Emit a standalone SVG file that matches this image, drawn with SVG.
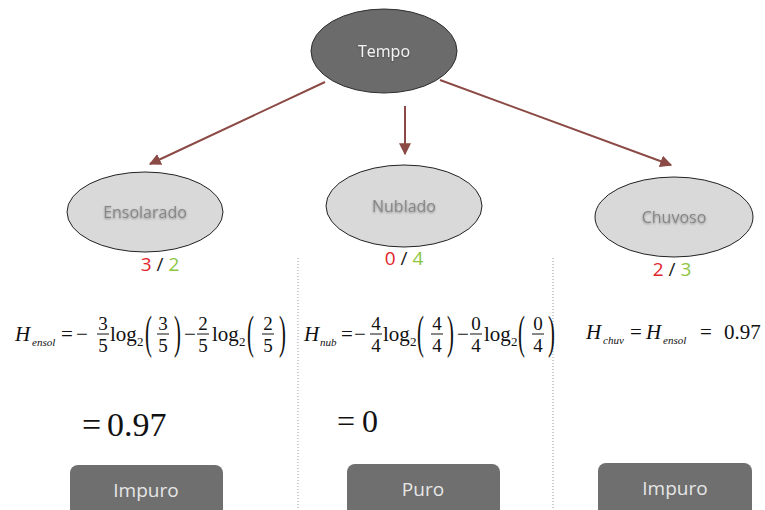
<svg xmlns="http://www.w3.org/2000/svg" width="765" height="510" viewBox="0 0 765 510">
<defs>
<marker id="arr" viewBox="0 0 10 10" refX="9" refY="5" markerWidth="6" markerHeight="6" orient="auto" markerUnits="strokeWidth">
<path d="M0,0 L10,5 L0,10 z" fill="#8b4a45"/>
</marker>
<filter id="sh" x="-10%" y="-30%" width="120%" height="160%">
<feDropShadow dx="0" dy="1" stdDeviation="1" flood-color="#000" flood-opacity="0.35"/>
</filter>
</defs>
<style>
.root{fill:#6b6b6b;stroke:#2e2e2e;stroke-width:1}
.child{fill:#d9d9d9;stroke:#222;stroke-width:1}
.lbl{font-family:"Open Sans","Liberation Sans",sans-serif;font-size:16px;text-anchor:middle}
.rootlbl{fill:#f2f2f2}
.childlbl{fill:#868686}
.cnt{font-family:"Open Sans","Liberation Sans",sans-serif;font-size:19px;text-anchor:middle}
.red{fill:#e2242b}.grn{fill:#8dc63f}.blk{fill:#222}
.edge{stroke:#8b4a45;stroke-width:2;fill:none}
.div{stroke:#9a9a9a;stroke-width:1;stroke-dasharray:1 2}
.m{font-family:"Liberation Serif","Times New Roman",serif;font-size:21px;fill:#111}
.mi{font-style:italic}
.sub{font-family:"Liberation Serif",serif;font-size:11px;font-style:italic;fill:#111}
.s2{font-family:"Liberation Serif",serif;font-size:13px;fill:#111}
.fd{font-family:"Liberation Serif",serif;font-size:19px;fill:#111;text-anchor:middle}
.bar{stroke:#111;stroke-width:1}
.par{font-family:"Liberation Serif",serif;font-size:46px;fill:#111}
.big{font-family:"Liberation Serif",serif;font-size:34px;fill:#111}
.btn{fill:#6f6f6f}
.btnt{font-family:"Open Sans","Liberation Sans",sans-serif;font-size:19px;fill:#e6e6e6;text-anchor:middle}
</style>
<rect width="765" height="510" fill="#fff"/>

<g id="connectors">
<line class="edge" x1="325" y1="82" x2="150" y2="164" marker-end="url(#arr)"/>
<line class="edge" x1="405" y1="106" x2="405" y2="154" marker-end="url(#arr)"/>
<line class="edge" x1="440" y1="80" x2="671" y2="165" marker-end="url(#arr)"/>
</g>

<g id="tempo">
<ellipse class="root" cx="384" cy="51" rx="73" ry="42"/>
<text class="lbl rootlbl" x="384" y="57" filter="url(#sh)">Tempo</text>
</g>

<g id="ensolarado">
<ellipse class="child" cx="145" cy="212" rx="78" ry="40"/>
<text class="lbl childlbl" x="145" y="218" filter="url(#sh)">Ensolarado</text>
<text class="cnt" x="160" y="271"><tspan class="red">3</tspan><tspan class="blk"> / </tspan><tspan class="grn">2</tspan></text>
</g>

<g id="nublado">
<ellipse class="child" cx="404" cy="206" rx="78" ry="41"/>
<text class="lbl childlbl" x="404" y="212" filter="url(#sh)">Nublado</text>
<text class="cnt" x="404" y="265"><tspan class="red">0</tspan><tspan class="blk"> / </tspan><tspan class="grn">4</tspan></text>
</g>

<g id="chuvoso">
<ellipse class="child" cx="674" cy="217" rx="79" ry="40"/>
<text class="lbl childlbl" x="674" y="223" filter="url(#sh)">Chuvoso</text>
<text class="cnt" x="672" y="276"><tspan class="red">2</tspan><tspan class="blk"> / </tspan><tspan class="grn">3</tspan></text>
</g>

<g id="dividers">
<line class="div" x1="298" y1="258" x2="298" y2="510"/>
<line class="div" x1="553" y1="258" x2="553" y2="510"/>
</g>

<g id="formula-ensol">
<text class="m mi" x="15" y="341">H</text>
<text class="sub" x="32" y="346">ensol</text>
<text class="m" x="61" y="341">=</text>
<text class="m" x="76" y="341">−</text>
<text class="fd" x="103" y="330">3</text><line class="bar" x1="97" y1="334" x2="109" y2="334"/><text class="fd" x="103" y="352">5</text>
<text class="m" x="110" y="341">log</text><text class="s2" x="137" y="346">2</text>
<text class="par" transform="translate(145,348) scale(0.45,1)">(</text>
<text class="fd" x="163" y="330">3</text><line class="bar" x1="157" y1="334" x2="169" y2="334"/><text class="fd" x="163" y="352">5</text>
<text class="par" transform="translate(174,348) scale(0.45,1)">)</text>
<text class="m" x="184" y="341">−</text>
<text class="fd" x="203" y="330">2</text><line class="bar" x1="197" y1="334" x2="209" y2="334"/><text class="fd" x="203" y="352">5</text>
<text class="m" x="212" y="341">log</text><text class="s2" x="239" y="346">2</text>
<text class="par" transform="translate(247,348) scale(0.45,1)">(</text>
<text class="fd" x="268" y="330">2</text><line class="bar" x1="262" y1="334" x2="274" y2="334"/><text class="fd" x="268" y="352">5</text>
<text class="par" transform="translate(279,348) scale(0.45,1)">)</text>
</g>

<g id="formula-nub">
<text class="m mi" x="304" y="341">H</text>
<text class="sub" x="320" y="346">nub</text>
<text class="m" x="341" y="341">=</text>
<text class="m" x="354" y="341">−</text>
<text class="fd" x="376" y="330">4</text><line class="bar" x1="370" y1="334" x2="382" y2="334"/><text class="fd" x="376" y="352">4</text>
<text class="m" x="383" y="341">log</text><text class="s2" x="410" y="346">2</text>
<text class="par" transform="translate(417,348) scale(0.45,1)">(</text>
<text class="fd" x="437" y="330">4</text><line class="bar" x1="431" y1="334" x2="443" y2="334"/><text class="fd" x="437" y="352">4</text>
<text class="par" transform="translate(447,348) scale(0.45,1)">)</text>
<text class="m" x="457" y="341">−</text>
<text class="fd" x="476" y="330">0</text><line class="bar" x1="470" y1="334" x2="482" y2="334"/><text class="fd" x="476" y="352">4</text>
<text class="m" x="484" y="341">log</text><text class="s2" x="511" y="346">2</text>
<text class="par" transform="translate(518,348) scale(0.45,1)">(</text>
<text class="fd" x="538" y="330">0</text><line class="bar" x1="532" y1="334" x2="544" y2="334"/><text class="fd" x="538" y="352">4</text>
<text class="par" transform="translate(548,348) scale(0.45,1)">)</text>
</g>

<g id="formula-chuv">
<text class="m mi" x="586" y="339">H</text>
<text class="sub" x="603" y="344">chuv</text>
<text class="m" x="630" y="339">=</text>
<text class="m mi" x="646" y="339">H</text>
<text class="sub" x="663" y="344">ensol</text>
<text class="m" x="700" y="339">=</text>
<text class="m" x="724" y="339">0.97</text>
</g>

<g id="result-ensol">
<text class="big" x="82" y="436">=</text>
<text class="big" x="107" y="436">0.97</text>
</g>
<g id="result-nub">
<text class="big" x="337" y="432" style="font-size:32px">=</text>
<text class="big" x="362" y="432" style="font-size:32px">0</text>
</g>

<g id="btn-ensol">
<rect class="btn" x="70" y="465" width="153" height="60" rx="8"/>
<text class="btnt" x="146" y="497">Impuro</text>
</g>
<g id="btn-nub">
<rect class="btn" x="347" y="464" width="153" height="60" rx="8"/>
<text class="btnt" x="423" y="496">Puro</text>
</g>
<g id="btn-chuv">
<rect class="btn" x="598" y="463" width="154" height="60" rx="8"/>
<text class="btnt" x="675" y="495">Impuro</text>
</g>
</svg>
